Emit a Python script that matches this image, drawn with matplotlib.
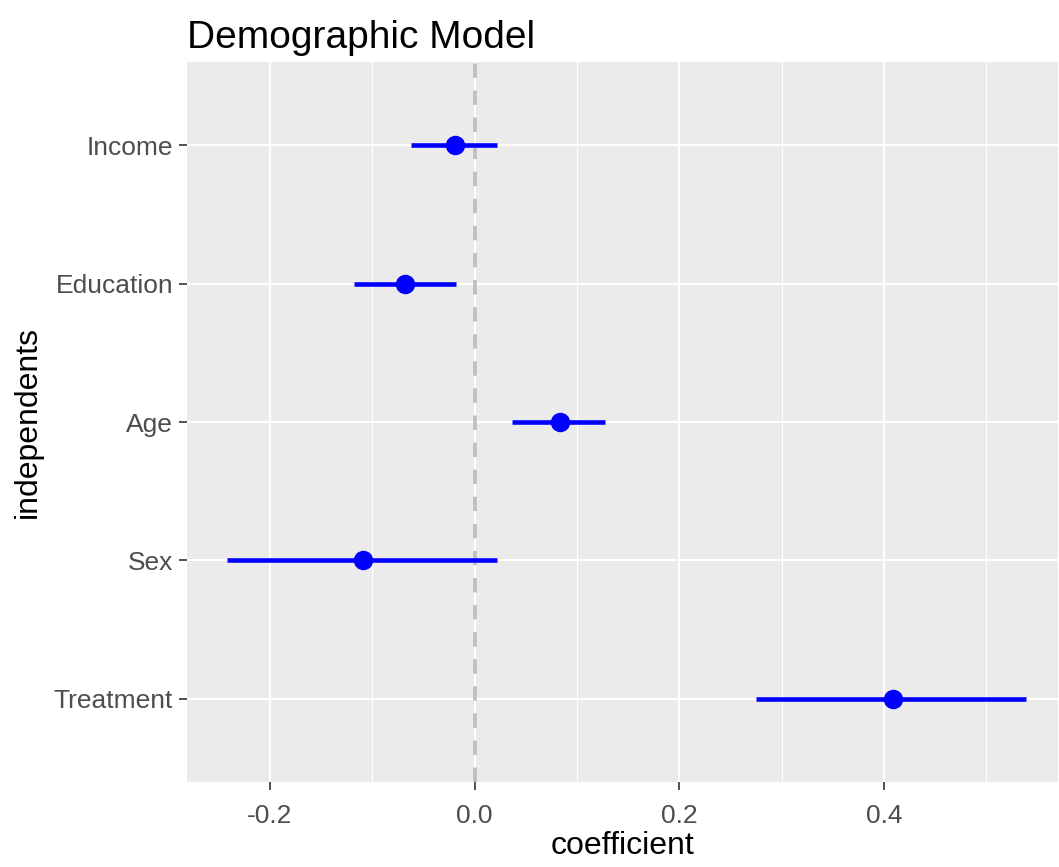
import numpy as np
import matplotlib
matplotlib.use("Agg")
import matplotlib.pyplot as plt
from matplotlib.ticker import MultipleLocator

# ── Data ──────────────────────────────────────────────────────────────────────
independents = ["Treatment", "Sex", "Age", "Education", "Income"]
coefficient = [0.409, -0.109, 0.083, -0.068, -0.019]
ci_low = [0.275, -0.242, 0.037, -0.118, -0.062]
ci_high = [0.539, 0.022, 0.127, -0.018, 0.022]

plt.rcParams["font.family"] = ["Liberation Sans", "DejaVu Sans"]

fig = plt.figure(figsize=(10.59, 8.67), dpi=100)
ax = fig.add_axes([0.1766, 0.098, 0.8224, 0.8305])
ax.set_facecolor("#EBEBEB")

ypos = np.arange(1, len(independents) + 1)

# grid like ggplot
ax.xaxis.set_major_locator(MultipleLocator(0.2))
ax.xaxis.set_minor_locator(MultipleLocator(0.1))
ax.grid(which="major", color="white", lw=1.5)
ax.grid(which="minor", axis="x", color="white", lw=0.8)
ax.set_axisbelow(True)

ax.axvline(0, color="#BEBEBE", lw=2.6, ls=(0, (4, 3.5)), zorder=1)

ax.hlines(ypos, ci_low, ci_high, color="blue", lw=3.3, zorder=3)
ax.plot(coefficient, ypos, "o", color="blue", ms=13, zorder=4)

ax.set_xlim(-0.281, 0.570)
ax.set_ylim(0.4, 5.6)
ax.set_yticks(ypos)
ax.set_yticklabels(independents)
ax.set_xticks([-0.2, 0.0, 0.2, 0.4])
ax.set_xticklabels(["-0.2", "0.0", "0.2", "0.4"])

for s in ax.spines.values():
    s.set_visible(False)
ax.tick_params(axis="both", which="major", length=6, width=1.2, color="#333333",
               labelcolor="#4D4D4D", labelsize=19, pad=4)
ax.tick_params(axis="x", which="major", pad=10)
ax.tick_params(axis="x", which="minor", length=0)

ax.set_xlabel("coefficient", fontsize=23, labelpad=2)
ax.set_ylabel("independents", fontsize=23, labelpad=8)
ax.set_title("Demographic Model", fontsize=28, loc="left", pad=10)

fig.savefig("out.png", dpi=100, facecolor="white")
